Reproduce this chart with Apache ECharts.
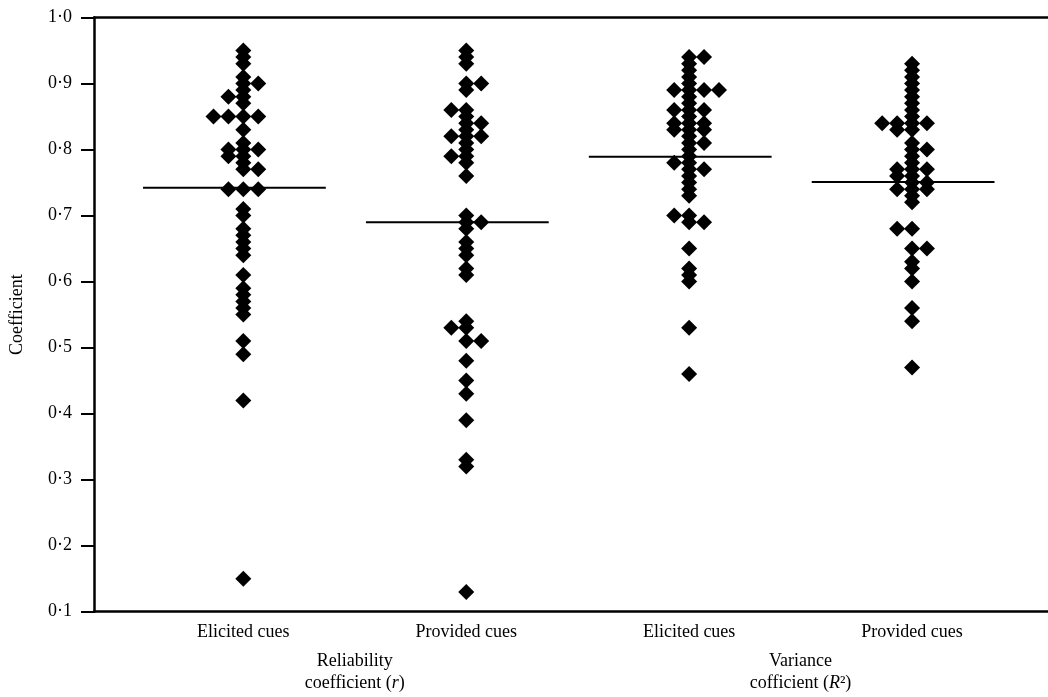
<!DOCTYPE html>
<html>
<head>
<meta charset="utf-8">
<script src="https://cdn.jsdelivr.net/npm/echarts@6/dist/echarts.min.js"></script>
<style>
html,body{margin:0;padding:0;background:#fff;}
#chart{width:1048px;height:697px;}
</style>
</head>
<body>
<div id="chart"></div>
<script>
// ---- data ----
const cueLabels = ['Elicited cues', 'Provided cues', 'Elicited cues', 'Provided cues'];
const groupTitles = ['Reliability\ncoefficient ({i|r})', 'Variance\ncofficient ({i|R}²)'];

const elicitedR = [0.95,0.94,0.93,0.91,0.90,0.90,0.89,0.88,0.88,0.87,0.85,0.85,0.85,0.85,0.83,0.81,
  0.80,0.80,0.80,0.79,0.79,0.78,0.77,0.77,0.74,0.74,0.74,0.71,0.70,0.68,0.67,0.66,0.65,0.64,
  0.61,0.59,0.58,0.57,0.56,0.55,0.51,0.49,0.42,0.15];
const providedR = [0.95,0.94,0.93,0.90,0.90,0.89,0.86,0.86,0.85,0.84,0.84,0.83,0.82,0.82,0.82,0.81,
  0.80,0.79,0.79,0.78,0.76,0.70,0.69,0.69,0.68,0.66,0.65,0.64,0.62,0.61,0.54,0.53,0.53,0.51,0.51,
  0.48,0.45,0.43,0.39,0.33,0.32,0.13];
const elicitedR2 = [0.94,0.94,0.93,0.92,0.91,0.90,0.89,0.89,0.89,0.89,0.88,0.87,0.86,0.86,0.86,0.85,
  0.84,0.84,0.84,0.83,0.83,0.83,0.82,0.81,0.81,0.80,0.79,0.78,0.78,0.77,0.77,0.76,0.75,0.74,0.73,
  0.70,0.70,0.69,0.69,0.65,0.62,0.61,0.60,0.53,0.46];
const providedR2 = [0.93,0.92,0.91,0.90,0.89,0.88,0.87,0.86,0.85,0.84,0.84,0.84,0.84,0.83,0.83,0.81,
  0.80,0.80,0.79,0.78,0.77,0.77,0.77,0.76,0.76,0.75,0.75,0.74,0.74,0.74,0.73,0.72,0.68,0.68,
  0.65,0.65,0.63,0.62,0.60,0.56,0.54,0.47];
const medianValues = [0.742, 0.69, 0.789, 0.751];
const yTickValues = [0.1,0.2,0.3,0.4,0.5,0.6,0.7,0.8,0.9,1.0];

// ---- layout (dot-plot stacking of tied values) ----
const groups = [elicitedR, providedR, elicitedR2, providedR2];
const SLOT = 0.067;           // horizontal spacing of tied dots, in x-axis units
const LINE_LEFT = 0.45, LINE_RIGHT = 0.37;
const FONT = '"Liberation Serif", "Times New Roman", serif';

function tiedSlots(values) {
  const counts = {};
  values.forEach(v => { const k = v.toFixed(2); counts[k] = (counts[k] || 0) + 1; });
  const patterns = {}, seen = {};
  let alt = 0;
  return values.map(v => {
    const k = v.toFixed(2);
    if (!patterns[k]) {
      const n = counts[k];
      let p;
      if (n === 1) p = [0];
      else if (n === 2) { p = (alt++ % 2 === 0) ? [0, 1] : [-1, 0]; }
      else if (n === 3) p = [-1, 0, 1];
      else if (n === 4) { p = (alt++ % 2 === 0) ? [-2, -1, 0, 1] : [-1, 0, 1, 2]; }
      else { p = []; for (let i = 0; i < n; i++) p.push(i - Math.floor(n / 2)); }
      patterns[k] = p;
      seen[k] = 0;
    }
    return patterns[k][seen[k]++];
  });
}

const series = [];
groups.forEach((vals, gi) => {
  const slots = tiedSlots(vals);
  series.push({
    type: 'scatter',
    symbol: 'diamond',
    symbolSize: 16,
    itemStyle: { color: '#000', opacity: 1 },
    data: vals.map((v, i) => [gi + 1 + slots[i] * SLOT, v]),
    z: 3,
    silent: true
  });
  series.push({
    type: 'line',
    symbol: 'none',
    lineStyle: { color: '#000', width: 2 },
    data: [[gi + 1 - LINE_LEFT, medianValues[gi]], [gi + 1 + LINE_RIGHT, medianValues[gi]]],
    z: 2,
    silent: true
  });
});

const xMin = 0.33, xMax = 4.61;
const chart = echarts.init(document.getElementById('chart'), null, { renderer: 'canvas' });
chart.setOption({
  animation: false,
  backgroundColor: '#fff',
  grid: { left: 91, right: 0, top: 17.5, bottom: 85.3, containLabel: false },
  xAxis: [
    {
      type: 'value', position: 'bottom', min: xMin, max: xMax,
      axisLine: { show: true, lineStyle: { color: '#000', width: 2.5 } },
      axisTick: { show: false },
      splitLine: { show: false },
      axisLabel: {
        customValues: [1, 2, 3, 4],
        margin: 12,
        color: '#000', fontFamily: FONT, fontSize: 18,
        formatter: v => cueLabels[Math.round(v) - 1]
      }
    },
    {
      type: 'value', position: 'bottom', min: xMin, max: xMax,
      axisLine: { show: false }, axisTick: { show: false }, splitLine: { show: false },
      axisLabel: {
        customValues: [1.5, 3.5],
        margin: 39,
        color: '#000', fontFamily: FONT, fontSize: 18, lineHeight: 22, align: 'center',
        formatter: v => groupTitles[v < 2.5 ? 0 : 1],
        rich: { i: { fontStyle: 'italic', fontFamily: FONT, fontSize: 18, color: '#000', lineHeight: 22 } }
      }
    },
    {
      type: 'value', position: 'top', min: xMin, max: xMax,
      axisLine: { show: true, lineStyle: { color: '#000', width: 2.5 } },
      axisTick: { show: false }, axisLabel: { show: false }, splitLine: { show: false }
    }
  ],
  yAxis: {
    type: 'value', min: 0.1, max: 1.0, interval: 0.1,
    name: 'Coefficient', nameLocation: 'middle', nameGap: 68,
    nameTextStyle: { color: '#000', fontFamily: FONT, fontSize: 18 },
    axisLine: { show: true, lineStyle: { color: '#000', width: 2.5 } },
    axisTick: { show: true, inside: false, length: 13, lineStyle: { color: '#000', width: 2 } },
    splitLine: { show: false },
    axisLabel: {
      margin: 22, color: '#000', fontFamily: FONT, fontSize: 18,
      formatter: v => {
        const t = yTickValues.find(tv => Math.abs(tv - v) < 1e-6);
        return (t !== undefined ? t : v).toFixed(1).replace('.', '·');
      }
    }
  },
  series: series
});
</script>
</body>
</html>
